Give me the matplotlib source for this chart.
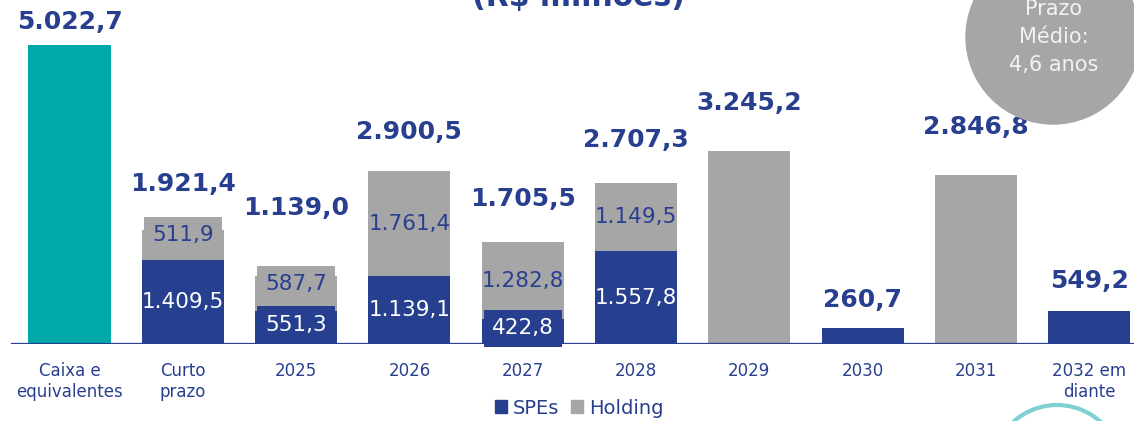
import matplotlib
matplotlib.use("Agg")
import matplotlib.pyplot as plt
from matplotlib.patches import Patch, Arc, Circle
import numpy as np

# ---- data ----
categories = ["Caixa e\nequivalentes", "Curto\nprazo", "2025", "2026", "2027",
              "2028", "2029", "2030", "2031", "2032 em\ndiante"]
caixa = [5022.7, 0, 0, 0, 0, 0, 0, 0, 0, 0]
spes = [0, 1409.5, 551.3, 1139.1, 422.8, 1557.8, 0, 260.7, 0, 549.2]
holding = [0, 511.9, 587.7, 1761.4, 1282.8, 1149.5, 3245.2, 0, 2846.8, 0]
totals = [5022.7, 1921.4, 1139.0, 2900.5, 1705.5, 2707.3, 3245.2, 260.7, 2846.8, 549.2]
legend_labels = ["SPEs", "Holding"]
title_text = "(R$ milhões)"
badge_text = "Prazo\nMédio:\n4,6 anos"

# ---- style ----
TEAL = "#00A9A9"
BLUE = "#26408F"
GRAY = "#A6A6A6"
TXT = "#283F8F"
# vertical offsets (pixels) of total labels above bar tops
total_offsets = [23, 46, 68, 39, 43, 43, 48, 28, 48, 30]


def fmt(v):
    s = f"{v:,.1f}"
    return s.replace(",", "X").replace(".", ",").replace("X", ".")


W, H = 1134, 421
fig = plt.figure(figsize=(W / 100, H / 100), dpi=100)
ax = fig.add_axes([0, 77 / H, 1, 344 / H])
ax.set_xlim(-69.5 / 113.3, (W - 69.5) / 113.3)
ax.set_ylim(0, 344 * 16.8)
ax.axis("off")

x = np.arange(len(categories))
bw = 0.724
ax.bar(x, caixa, bw, color=TEAL, zorder=2)
ax.bar(x, spes, bw, color=BLUE, zorder=2)
ax.bar(x, holding, bw, bottom=spes, color=GRAY, zorder=2)

# baseline
ax.axhline(0, xmin=12 / W, xmax=1, color=BLUE, lw=1.6, zorder=3)


def seg_label(xi, y, val, color, face, up):
    short = val < 1000
    kw = dict(ha="center", va="center", fontsize=15.5, color=color, zorder=4,
              textcoords="offset pixels", annotation_clip=False)
    if short:
        kw["bbox"] = dict(boxstyle="square,pad=0.38", fc=face, ec="none")
        ax.annotate(fmt(val), xy=(xi, y), xytext=(0, up), **kw)
    else:
        ax.annotate(fmt(val), xy=(xi, y), xytext=(0, 0), **kw)


# segment labels
for i in range(len(x)):
    if spes[i] > 0 and holding[i] > 0:
        seg_label(x[i], spes[i] / 2, spes[i], "white", BLUE, 3)
        seg_label(x[i], spes[i] + holding[i] / 2, holding[i], TXT, GRAY, 10)

# totals
for i in range(len(x)):
    ax.annotate(fmt(totals[i]), xy=(x[i], totals[i]),
                xytext=(0, total_offsets[i]), textcoords="offset pixels",
                ha="center", va="center", fontsize=18, fontweight="bold",
                color=TXT, zorder=5, annotation_clip=False)

# category labels
for i, c in enumerate(categories):
    fig.text((69.5 + 113.3 * x[i]) / W, 1 - 362 / H, c, ha="center", va="top",
             fontsize=12, color=TXT, linespacing=1.2, multialignment="center")

# title (cut off at top, as in the source)
fig.text(578 / W, 1 - 6 / H, title_text, ha="center", va="baseline",
         fontsize=21.5, fontweight="bold", color=TXT)

# badge circle
circ = Circle((1053, H - 37), 87, transform=None, color="#A6A6A6", zorder=1)
fig.patches.append(circ)
fig.text(1054 / W, 1 - 37 / H, badge_text, ha="center", va="center",
         fontsize=15, color="#F2F2F2", linespacing=1.5)

# decorative arc
arc = Arc((1057, H - 470), 130, 130, theta1=25, theta2=155, transform=None,
          color="#7FD0D0", lw=3)
fig.patches.append(arc)

# legend
handles = [Patch(color=BLUE), Patch(color=GRAY)]
fig.legend(handles, legend_labels, loc="center", ncol=2,
           bbox_to_anchor=(579 / W, 1 - 408 / H), frameon=False, fontsize=14,
           handlelength=0.62, handleheight=0.62, handletextpad=0.3,
           columnspacing=0.6, labelcolor=TXT, borderpad=0)

fig.savefig("out.png", dpi=100)
